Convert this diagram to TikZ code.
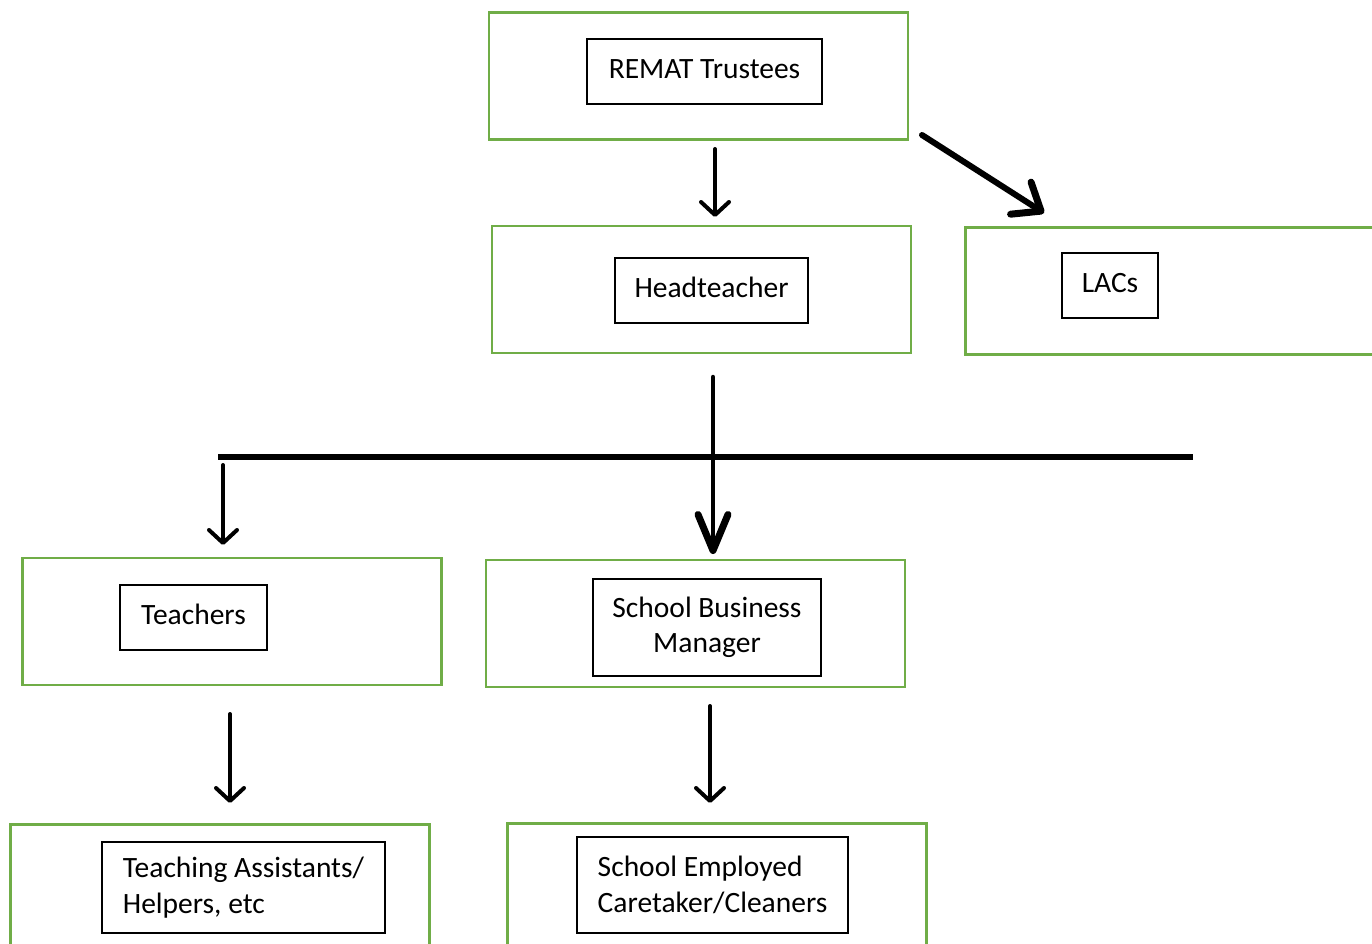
\documentclass[tikz,border=0pt]{standalone}
\usepackage{fontspec}
\setmainfont{Carlito}
\usetikzlibrary{arrows.meta}
\definecolor{boxgreen}{HTML}{70AD47}
\tikzset{
  outerbox/.style={draw=boxgreen, line width=2.6pt, minimum width=419pt, minimum height=127pt, inner sep=0pt},
  innerbox/.style={draw=black, line width=1.2pt, inner sep=0pt, align=center, font=\fontsize{29.5}{35}\selectfont},
  onebox/.style={innerbox, text height=19.5pt, text depth=6pt},
  leftbox/.style={draw=black, line width=1.2pt, inner sep=0pt, align=left, font=\fontsize{29.5}{36}\selectfont},
  thinarrow/.style={line width=4pt, line cap=round, -{Straight Barb[length=13pt, width=28pt, line cap=round, line join=round]}},
  diagarrow/.style={line width=6pt, line cap=round, -{Straight Barb[length=24pt, width=38pt, line width=7pt, line cap=round, line join=round]}},
  bigarrow/.style={line width=4.5pt, line cap=round, -{Straight Barb[length=36pt, width=30pt, line width=7pt, line cap=round, line join=round]}},
  bar/.style={line width=6pt}
}
\begin{document}
\begin{tikzpicture}[x=1pt, y=-1pt]
\useasboundingbox (0,0) rectangle (1372,944);
\clip (0,0) rectangle (1372,944);
% outer boxes
\node[outerbox] (remat) at (698.5,76) {};
\node[outerbox] (head) at (701.5,289.5) {};
\node[outerbox, anchor=north west] (lacs) at (964,226) {};
\node[outerbox] (teach) at (232,621.5) {};
\node[outerbox] (sbm) at (695.5,623.5) {};
\node[outerbox, anchor=north west] (ta) at (9,823) {};
\node[outerbox, anchor=north west] (sec) at (506,822) {};
% inner boxes
\node[onebox, minimum width=235pt, minimum height=65pt] (rematT) at (704.5,71.5) {REMAT Trustees};
\node[onebox, minimum width=193pt, minimum height=65pt] (headT) at (711.5,290.5) {Headteacher};
\node[onebox, minimum width=96pt, minimum height=65pt] (lacsT) at (1110,285.5) {LACs};
\node[onebox, minimum width=147pt, minimum height=65pt] (teachT) at (193.5,617.5) {Teachers};
\node[innerbox, minimum width=228pt, minimum height=97pt] (sbmT) at (707,627.5) {School Business\\Manager};
\node[leftbox, minimum width=283pt, minimum height=91pt] (taT) at (243.5,887.5) {Teaching Assistants/\\Helpers, etc};
\node[leftbox, minimum width=271pt, minimum height=96pt] (secT) at (712.5,885) {School Employed\\Caretaker/Cleaners};
% connector end points
\coordinate (a1s) at (715,149);
\coordinate (a1e) at (715,217);
\coordinate (a2s) at (922,135);
\coordinate (a2e) at (1044,213);
\coordinate (a3s) at (713,377);
\coordinate (a3e) at (713,554);
\coordinate (barL) at (218,457);
\coordinate (barR) at (1193,457);
\coordinate (a4s) at (223,465);
\coordinate (a4e) at (223,545);
\coordinate (a5s) at (230,714);
\coordinate (a5e) at (230,803);
\coordinate (a6s) at (710,706);
\coordinate (a6e) at (710,803);
% connectors
\draw[thinarrow] (a1s) -- (a1e);
\draw[diagarrow] (a2s) -- (a2e);
\draw[bar] (barL) -- (barR);
\draw[bigarrow] (a3s) -- (a3e);
\draw[thinarrow] (a4s) -- (a4e);
\draw[thinarrow] (a5s) -- (a5e);
\draw[thinarrow] (a6s) -- (a6e);
\end{tikzpicture}
\end{document}
